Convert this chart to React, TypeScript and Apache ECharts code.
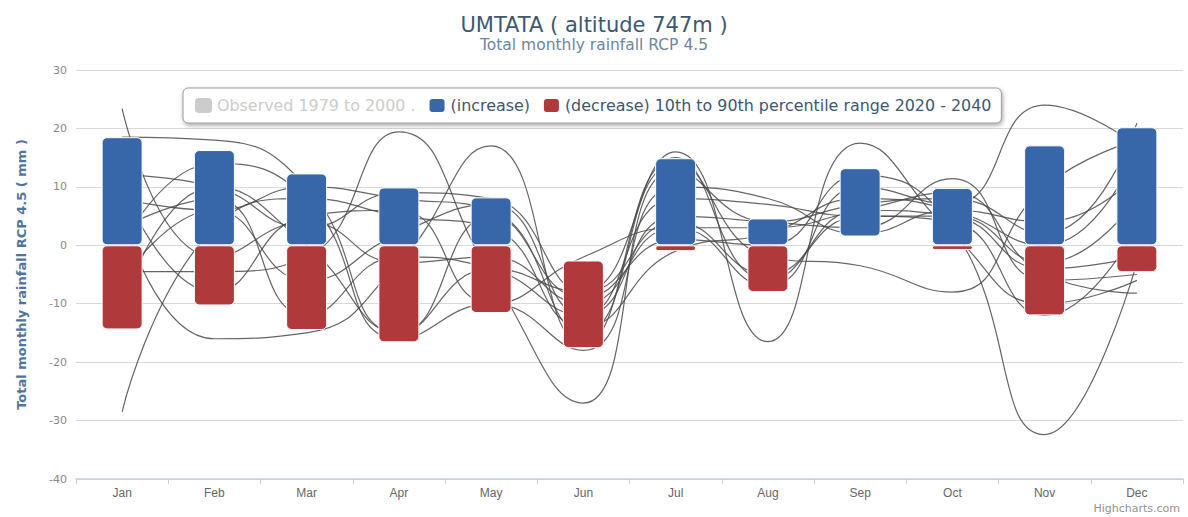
import React, { useEffect, useRef } from "react";
import * as echarts from "echarts";

const months = ["Jan", "Feb", "Mar", "Apr", "May", "Jun", "Jul", "Aug", "Sep", "Oct", "Nov", "Dec"];

// 10th-90th percentile range split into increase (blue) and decrease (red) parts
const increaseLow = [0, 0, 0, 0, 0, null, 0, 0, 1.5, 0, 0, 0];
const increaseHigh = [18.5, 16.3, 12.3, 9.9, 8.2, null, 14.9, 4.6, 13.2, 9.8, 17.1, 20.2];
const decreaseHigh = [0, 0, 0, 0, 0, -2.6, 0, 0, null, 0, 0, 0];
const decreaseLow = [-14.4, -10.3, -14.5, -16.6, -11.6, -17.6, -1.0, -8.0, null, -0.8, -12.0, -4.6];

// individual model projections (change in mm)
const model1 = [23.4, -2, 4, -3, -2, -10, 3, 3, 6, 9, -5, -8.2];
const model2 = [-28.5, 3, 8, 5, 3, -14, -1, 2, 8, 6, 0, 16];
const model3 = [18.5, 18, 10, -15, -4, -8, 4, -5, 6, 5, -4, -2];
const model4 = [-4.5, -4.5, -2, 19.4, -5, -27, 13, 4, 7, 8, 2, 20.9];
const model5 = [5, -16, -15, -3, 17, -17, 15, -6, 5, 4, -12, 3];
const model6 = [12, 10, 3, 9, 8, -8, 16, -16.5, 17.5, 2, -10, -6];
const model7 = [8, 6, 10, 8, 6, -15, 14, -2, -3.5, -8, 10, 18];
const model8 = [3, 8, -12, -2, -4, -12, 5, 4, 3, 11.4, -6, -5];
const model9 = [-10, 10, 0, -15, 5, -9, 1, 0, 12, 3, -32.4, -3];
const model10 = [10, -8, 5, 6, -10, -2, 3, -7, 10, 7, 24, 17];
const model11 = [0, 14, 8, -16, -10, -18, 10, 8, 2, 6, 4, 12];
const model12 = [-6, 6, -6, 2, 7, -12, 8, 7, 5, 5, -3, 8];

const models = [model1, model2, model3, model4, model5, model6, model7, model8, model9, model10, model11, model12];

const observedName = "Observed 1979 to 2000 .";
const incName = "(increase)";
const decName = "(decrease) 10th to 90th percentile range 2020 - 2040";

export default function App() {
  const ref = useRef<HTMLDivElement>(null);

  useEffect(() => {
    document.body.style.margin = "0";
    if (!ref.current) return;
    const chart = echarts.init(ref.current, null, { renderer: "svg" });

    const incBase = increaseLow.map((v) => (v == null ? "-" : v));
    const incHeight = increaseHigh.map((v, i) =>
      v == null ? "-" : +(v - (increaseLow[i] as number)).toFixed(2)
    );
    const decBase = decreaseHigh.map((v) => (v == null ? "-" : v));
    const decHeight = decreaseLow.map((v, i) =>
      v == null ? "-" : +(v - (decreaseHigh[i] as number)).toFixed(2)
    );

    const lineSeries = models.map((m, i) => ({
      name: "model" + (i + 1),
      type: "line",
      data: m,
      smooth: 0.5,
      symbol: "none",
      z: 1,
      lineStyle: { color: "#4a4a4a", width: 1.2, opacity: 0.85 },
      silent: true,
    }));

    const font = "'DejaVu Sans', Verdana, sans-serif";

    chart.setOption({
      animation: false,
      backgroundColor: "#ffffff",
      title: {
        text: "UMTATA ( altitude 747m )",
        subtext: "Total monthly rainfall RCP 4.5",
        left: "center",
        top: 9,
        itemGap: 2,
        textStyle: { fontSize: 21, color: "#3E576F", fontWeight: "normal", fontFamily: font },
        subtextStyle: { fontSize: 15.5, color: "#6D869F", fontFamily: font },
      },
      legend: {
        data: [observedName, incName, decName],
        selected: { [observedName]: false },
        left: 183,
        top: 88,
        padding: [9, 10, 9, 12],
        itemGap: 12,
        itemWidth: 17,
        itemHeight: 15,
        icon: "roundRect",
        inactiveColor: "#cccccc",
        backgroundColor: "#ffffff",
        borderColor: "#9a9a9a",
        borderWidth: 1,
        borderRadius: 5,
        shadowBlur: 4,
        shadowColor: "rgba(0,0,0,0.35)",
        shadowOffsetX: 1,
        shadowOffsetY: 2,
        textStyle: { fontSize: 15.9, color: "#3E576F", fontFamily: font },
      },
      grid: { left: 76, right: 5, top: 70, bottom: 38, containLabel: false },
      xAxis: {
        type: "category",
        data: months,
        boundaryGap: true,
        axisLine: { onZero: false, lineStyle: { color: "#C0D0E0", width: 1.5 } },
        axisTick: { show: true, length: 5, lineStyle: { color: "#C0D0E0" } },
        axisLabel: { color: "#666666", fontSize: 12, margin: 8, fontFamily: "'Liberation Sans Narrow', 'Liberation Sans', sans-serif" },
      },
      yAxis: {
        type: "value",
        min: -40,
        max: 30,
        interval: 10,
        name: "Total monthly rainfall RCP 4.5 ( mm )",
        nameLocation: "middle",
        nameGap: 48,
        nameTextStyle: { color: "#4D759E", fontSize: 13, fontWeight: "bold", fontFamily: font },
        axisLine: { show: false },
        axisTick: { show: false },
        axisLabel: { color: "#888888", fontSize: 11, margin: 9, fontFamily: font },
        splitLine: { lineStyle: { color: "#d8d8d8", width: 1 } },
      },
      series: [
        ...lineSeries,
        {
          name: observedName,
          type: "bar",
          data: [],
          itemStyle: { color: "#c0c0c0" },
        },
        {
          name: "incBase",
          type: "bar",
          stack: "range",
          data: incBase,
          barWidth: 41,
          z: 2,
          silent: true,
          itemStyle: { color: "transparent", borderWidth: 0 },
        },
        {
          name: incName,
          type: "bar",
          stack: "range",
          data: incHeight,
          barWidth: 41,
          z: 2,
          itemStyle: { color: "#3767a8", borderColor: "#ffffff", borderWidth: 1, borderRadius: 5 },
        },
        {
          name: "decBase",
          type: "bar",
          stack: "range",
          data: decBase,
          barWidth: 41,
          z: 2,
          silent: true,
          itemStyle: { color: "transparent", borderWidth: 0 },
        },
        {
          name: decName,
          type: "bar",
          stack: "range",
          data: decHeight,
          barWidth: 41,
          z: 2,
          itemStyle: { color: "#b0393b", borderColor: "#ffffff", borderWidth: 1, borderRadius: 5 },
        },
      ],
      graphic: [
        {
          type: "text",
          right: 8,
          bottom: 3,
          style: { text: "Highcharts.com", fontSize: 11, fill: "#909090", fontFamily: font },
        },
      ],
    });

    return () => chart.dispose();
  }, []);

  return (
    <div
      ref={ref}
      style={{ position: "fixed", left: 0, top: 0, width: 1188, height: 517 }}
    />
  );
}
